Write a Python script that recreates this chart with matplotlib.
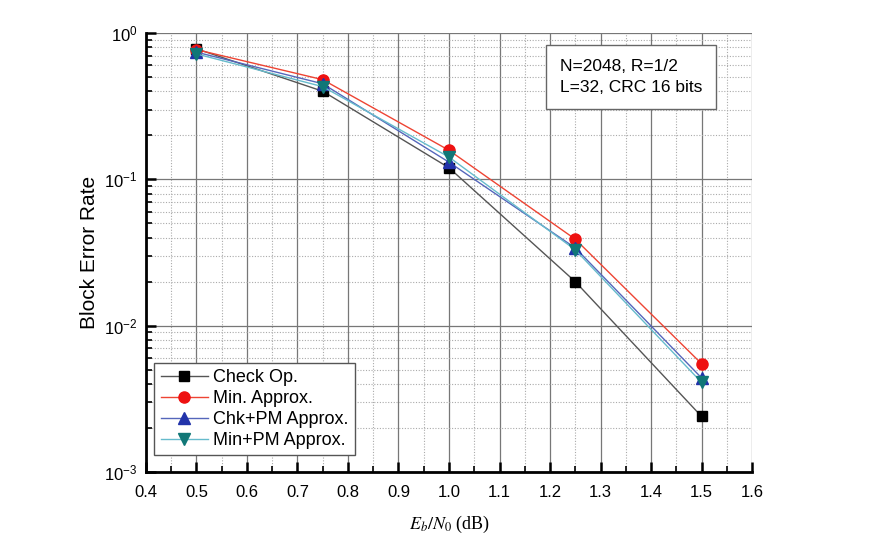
import matplotlib
matplotlib.use("Agg")
import matplotlib.pyplot as plt
from matplotlib.ticker import LogLocator, MultipleLocator, FixedLocator, NullFormatter

plt.rcParams['font.family'] = ['Liberation Sans', 'DejaVu Sans']
plt.rcParams['mathtext.fontset'] = 'custom'
plt.rcParams['mathtext.rm'] = 'Liberation Sans'
plt.rcParams['mathtext.it'] = 'Liberation Sans:italic'

ebn0 = [0.5, 0.75, 1.0, 1.25, 1.5]
check_op = [0.78, 0.40, 0.120, 0.020, 0.0024]
min_approx = [0.77, 0.48, 0.158, 0.039, 0.0055]
chk_pm = [0.74, 0.45, 0.131, 0.034, 0.0044]
min_pm = [0.72, 0.43, 0.142, 0.033, 0.0041]
labels = ['Check Op.', 'Min. Approx.', 'Chk+PM Approx.', 'Min+PM Approx.']
xticks = [0.4, 0.5, 0.6, 0.7, 0.8, 0.9, 1.0, 1.1, 1.2, 1.3, 1.4, 1.5, 1.6]

fig = plt.figure(figsize=(8.81, 5.56), dpi=100)
ax = fig.add_axes([0.1657, 0.151, 0.6879, 0.7896])

series = [
    (check_op, 's', '#000000', '#555555', 7),
    (min_approx, 'o', '#ee1111', '#ee4433', 8),
    (chk_pm, '^', '#2233aa', '#5566bb', 8),
    (min_pm, 'v', '#117777', '#66bbcc', 8),
]
for (vals, m, mc, lc, ms), lab in zip(series, labels):
    ax.plot(ebn0, vals, color=lc, lw=1.0, marker=m, markersize=ms,
            markerfacecolor=mc, markeredgecolor=mc, label=lab)

ax.set_yscale('log')
ax.set_xlim(0.4, 1.6)
ax.set_ylim(1e-3, 1.0)
ax.xaxis.set_major_locator(FixedLocator(xticks))
ax.set_xticklabels([f"{t:.1f}" for t in xticks])
ax.xaxis.set_minor_locator(MultipleLocator(0.05))
ax.yaxis.set_major_locator(LogLocator(base=10, numticks=10))
ax.yaxis.set_minor_locator(LogLocator(base=10, subs=range(2, 10), numticks=20))
ax.yaxis.set_minor_formatter(NullFormatter())

ax.grid(True, which='major', color='#777777', lw=0.9, ls='-')
ax.grid(True, which='minor', color='#aaaaaa', lw=0.8, ls=(0, (1, 1.5)))
ax.set_axisbelow(True)

for s in ['top', 'right']:
    ax.spines[s].set_visible(False)
for s in ['left', 'bottom']:
    ax.spines[s].set_linewidth(2.0)
ax.tick_params(which='major', direction='in', length=7, width=1.8, labelsize=12)
ax.tick_params(axis='x', which='major', pad=9)
ax.tick_params(axis='y', which='major', pad=6)
ax.tick_params(which='minor', direction='in', length=4, width=1.2)

ax.set_ylabel('Block Error Rate', fontsize=15, labelpad=4)
ax.set_xlabel(r'$E_b/N_0$ (dB)', fontsize=13, labelpad=10, family='Liberation Serif',
              math_fontfamily='stix')

ax.text(0.683, 0.90, 'N=2048, R=1/2\nL=32, CRC 16 bits', transform=ax.transAxes,
        fontsize=12.5, va='center', ha='left', linespacing=1.45,
        bbox=dict(boxstyle='square,pad=0.8', fc='white', ec='#666666', lw=1.0))

leg = ax.legend(loc='lower left', bbox_to_anchor=(0.008, 0.03), fontsize=13,
                frameon=True, fancybox=False, edgecolor='#555555', framealpha=1,
                handlelength=2.6, handletextpad=0.3, borderpad=0.35, labelspacing=0.22,
                borderaxespad=0.2)
leg.get_frame().set_linewidth(1.0)

fig.savefig('out.png', dpi=100)
